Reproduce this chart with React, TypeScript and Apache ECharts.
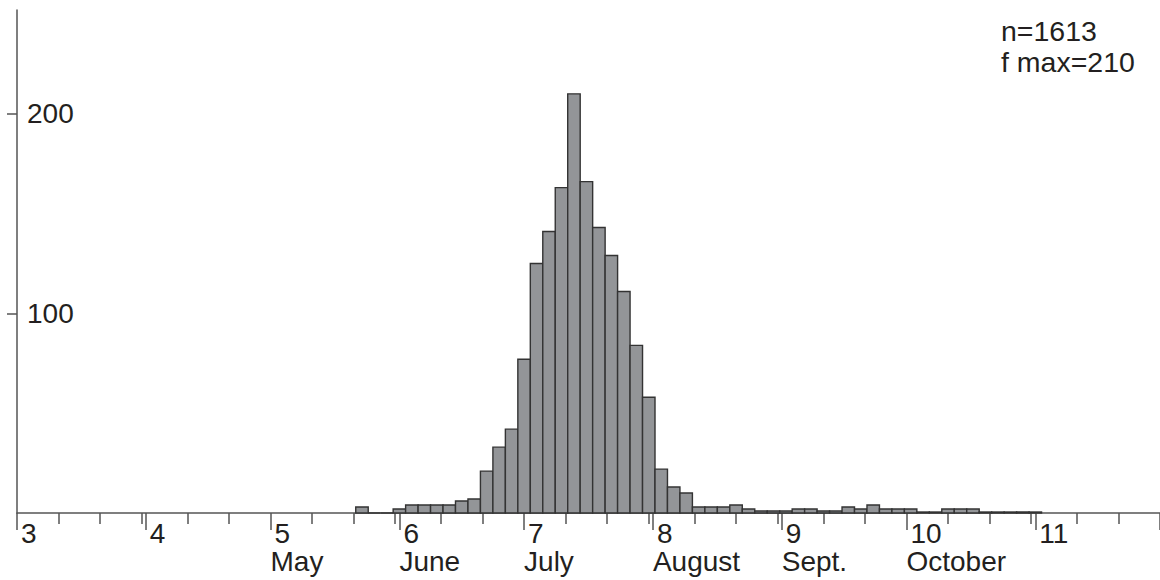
import React, { useEffect, useRef } from "react";
import * as echarts from "echarts";

// Days counted from 1 March (day 0). Histogram of 3-day bins.
const binFirstDay = 81.5;
const binDays = 3;
const binCounts = [
  3, 0, 0, 2, 4, 4, 4, 4, 6, 7,
  21, 33, 42, 77, 125, 141, 163, 210, 166, 143,
  129, 111, 84, 58, 22, 13, 10, 3, 3, 3,
  4, 2, 1, 1, 1, 2, 2, 1, 1, 3,
  2, 4, 2, 2, 2, 0.5, 0.5, 2, 2, 2,
  0.5, 0.5, 0.5, 0.5, 0.5,
];

// Month starts (days from 1 March) with their month numbers and names
const monthStartDays = [0, 31, 61, 92, 122, 153, 184, 214, 245, 275];
const monthNumbers = ["3", "4", "5", "6", "7", "8", "9", "10", "11", ""];
const monthNames = ["", "", "May", "June", "July", "August", "Sept.", "October", "", ""];
// 11th, 21st and 31st of each month
const decadeTickDays = [
  10, 20, 30, 41, 51, 71, 81, 91, 102, 112, 132, 142, 152,
  163, 173, 183, 194, 204, 224, 234, 244, 255, 265,
];
const yTickValues = [100, 200];
const nTotal = 1613;
const fMax = 210;

const FONT = '"Liberation Sans", Arial, sans-serif';
const TEXT = "#231f20";
const AXIS = "#555555";

export default function App() {
  const ref = useRef<HTMLDivElement>(null);
  useEffect(() => {
    if (!ref.current) return;
    const chart = echarts.init(ref.current, undefined, { renderer: "svg" });
    const data = binCounts.map((c, i) => [
      binFirstDay + i * binDays,
      binFirstDay + (i + 1) * binDays,
      c,
    ]);
    const labelDays = monthStartDays.filter((_, i) => monthNumbers[i] !== "");
    const nameDays = monthStartDays.filter((_, i) => monthNames[i] !== "");
    const lookup = (arr: string[]) => (v: number) => {
      const i = monthStartDays.indexOf(Math.round(v));
      return i < 0 ? "" : arr[i];
    };
    chart.setOption({
      animation: false,
      textStyle: { fontFamily: FONT },
      grid: { left: 17, right: 0, top: 10, bottom: 67, containLabel: false },
      xAxis: [
        {
          type: "value",
          min: 0,
          max: 275,
          position: "bottom",
          splitLine: { show: false },
          axisLine: { show: true, lineStyle: { color: AXIS, width: 1.5 } },
          axisTick: {
            show: true,
            length: 17,
            customValues: monthStartDays,
            lineStyle: { color: AXIS, width: 1.5 },
          },
          axisLabel: {
            show: true,
            customValues: labelDays,
            margin: 6,
            align: "left",
            color: TEXT,
            fontFamily: FONT,
            fontSize: 28,
            lineHeight: 28,
            padding: [0, 0, 0, 4],
            formatter: lookup(monthNumbers),
          },
        },
        {
          type: "value",
          min: 0,
          max: 275,
          position: "bottom",
          splitLine: { show: false },
          axisLine: { show: false },
          axisTick: {
            show: true,
            length: 11,
            customValues: decadeTickDays,
            lineStyle: { color: AXIS, width: 1.5 },
          },
          axisLabel: { show: false },
        },
        {
          type: "value",
          min: 0,
          max: 275,
          position: "bottom",
          splitLine: { show: false },
          axisLine: { show: false },
          axisTick: { show: false },
          axisLabel: {
            show: true,
            customValues: nameDays,
            margin: 34,
            align: "left",
            color: TEXT,
            fontFamily: FONT,
            fontSize: 28,
            lineHeight: 28,
            formatter: lookup(monthNames),
          },
        },
      ],
      yAxis: {
        type: "value",
        min: 0,
        max: 252,
        splitLine: { show: false },
        axisLine: { show: true, lineStyle: { color: AXIS, width: 1.5 } },
        axisTick: {
          show: true,
          inside: false,
          length: 10,
          customValues: yTickValues,
          lineStyle: { color: AXIS, width: 1.5 },
        },
        axisLabel: {
          show: true,
          inside: true,
          customValues: yTickValues,
          margin: 10,
          color: TEXT,
          fontFamily: FONT,
          fontSize: 28,
          align: "left",
          verticalAlign: "middle",
          padding: [0, 0, 15, 0],
        },
      },
      series: [
        {
          type: "custom",
          xAxisIndex: 0,
          yAxisIndex: 0,
          encode: { x: [0, 1], y: 2 },
          data,
          renderItem: (params: any, api: any) => {
            const p0 = api.coord([api.value(0), api.value(2)]);
            const p1 = api.coord([api.value(1), 0]);
            return {
              type: "rect",
              shape: { x: p0[0], y: p0[1], width: p1[0] - p0[0], height: p1[1] - p0[1] },
              style: { fill: "#939598", stroke: "#333333", lineWidth: 1.4 },
            };
          },
        },
      ],
      graphic: [
        {
          type: "text",
          left: 1001,
          top: 16,
          style: {
            text: `n=${nTotal}\nf max=${fMax}`,
            fontSize: 28.5,
            lineHeight: 30.5,
            fontFamily: FONT,
            fill: TEXT,
          },
        },
      ],
    });
    return () => chart.dispose();
  }, []);
  return (
    <div
      ref={ref}
      style={{ position: "absolute", left: 0, top: 0, width: 1160, height: 580, background: "#fff" }}
    />
  );
}
